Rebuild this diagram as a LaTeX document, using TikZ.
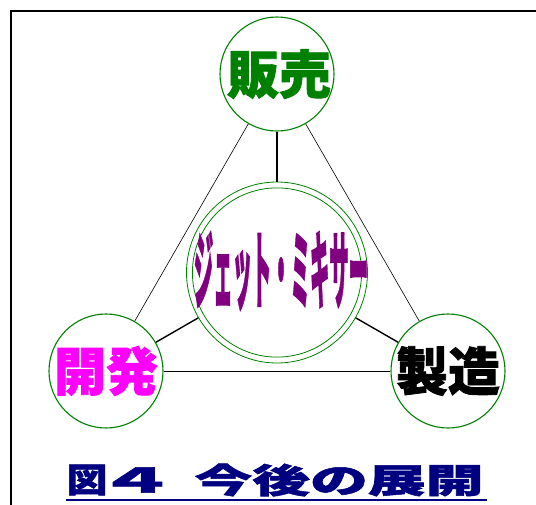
\documentclass[tikz,border=0pt]{standalone}
\usepackage{fontspec}
\newfontfamily\cjk{Noto Sans CJK JP}[BoldFeatures={FakeBold=1.5}]
\definecolor{cgreen}{HTML}{008000}
\definecolor{cpurple}{HTML}{800080}
\definecolor{cmagenta}{HTML}{FF00FF}
\definecolor{cnavy}{HTML}{000080}
\tikzset{
  ring/.style={circle, draw=cgreen, line width=1.1pt, minimum size=114pt, inner sep=0pt},
  bigring/.style={circle, draw=cgreen, line width=0.8pt, minimum size=181pt, inner sep=0pt},
  word/.style={inner sep=0pt, font=\cjk\bfseries\fontsize{52}{52}\selectfont},
  ttl/.style={inner sep=0pt, text=cnavy, font=\cjk\bfseries\fontsize{34}{34}\selectfont},
  side/.style={black, line width=0.6pt},
  spoke/.style={black, line width=1.4pt},
  frame/.style={black, line width=2pt}
}
\begin{document}
\begin{tikzpicture}[x=1pt, y=-1pt]
\useasboundingbox (0,0) rectangle (536,504);
\draw[frame] (11,520) -- (11,11) -- (550,11);
\node[ring] (top) at (277,74) {};
\node[ring] (left) at (106,371) {};
\node[ring] (right) at (448,371) {};
\node[bigring] (c) at (277,272.5) {};
\draw[cgreen, line width=0.8pt] (c.center) circle (84.6);
\draw[side] (top) -- (left);
\draw[side] (top) -- (right);
\draw[side] (left) -- (right);
\draw[spoke] (c) -- (top);
\draw[spoke] (c) -- (left);
\draw[spoke] (c) -- (right);
\node[word, text=cgreen] (t1) at (279,74) {販売};
\node[word, text=cmagenta] (t2) at (106,371) {開発};
\node[word, text=black] (t3) at (448,371) {製造};
\node[inner sep=0pt, text=cpurple, font=\cjk\bfseries\fontsize{86}{86}\selectfont, xscale=0.225] (t4) at (281,271) {ジェット・ミキサー};
\node[ttl, xscale=1.2] (ttla) at (87,480) {図};
\node[ttl, xscale=2.3] (ttlb) at (136.5,480) {４};
\node[ttl, xscale=1.7] (ttlc) at (339,480) {今後の展開};
\draw[cnavy, line width=2pt] ([yshift=-20pt]ttla.center -| 66,0) -- ([yshift=-20pt]ttlc.center -| 487,0);
\end{tikzpicture}
\end{document}
